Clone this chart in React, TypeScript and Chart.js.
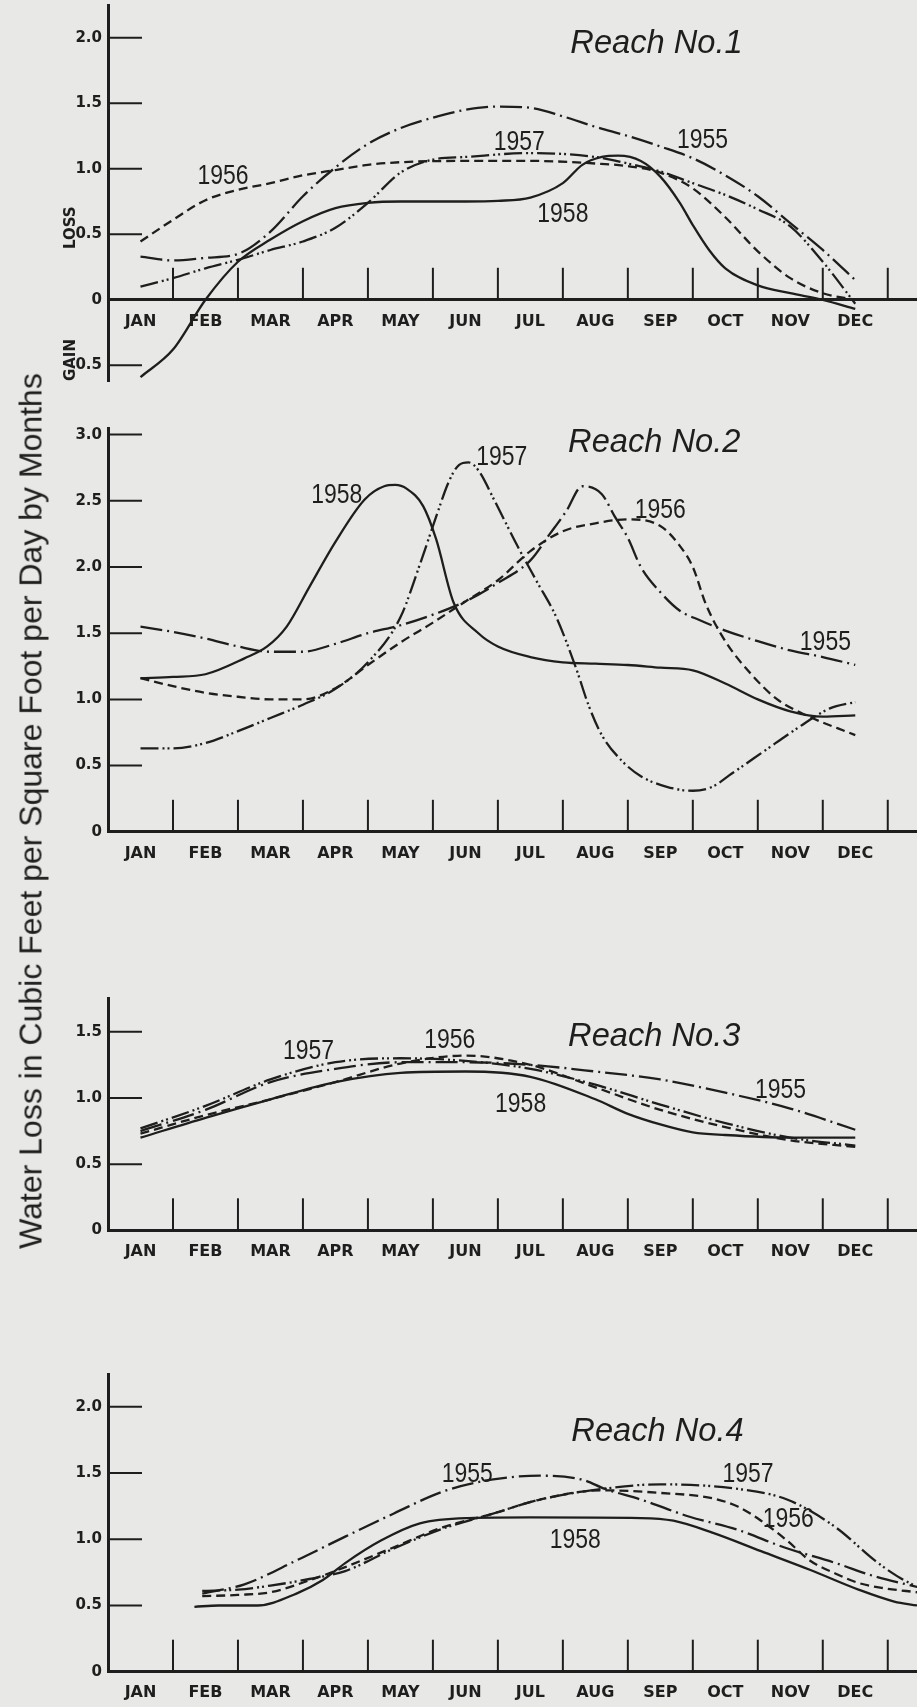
import React, { useEffect, useRef } from "react";
import { Chart, registerables } from "chart.js";

Chart.register(...registerables);

type Pt = [number, number];

// ---------- categories ----------
const MONTHS = ["JAN", "FEB", "MAR", "APR", "MAY", "JUN", "JUL", "AUG", "SEP", "OCT", "NOV", "DEC"];
const YEARS = ["1955", "1956", "1957", "1958"];

// ---------- Reach No.1  [month position, cfs per sq ft per day] ----------
const reach1_1955: Pt[] = [
  [1, 0.33], [1.5, 0.30], [2, 0.32], [2.5, 0.35], [3, 0.52], [3.5, 0.79], [4, 1.01], [4.5, 1.19],
  [5, 1.31], [5.5, 1.39], [6, 1.45], [6.5, 1.475], [7, 1.465], [7.5, 1.40], [8, 1.32], [8.5, 1.25],
  [9, 1.17], [9.5, 1.08], [10, 0.95], [10.5, 0.79], [11, 0.585], [11.5, 0.38], [12, 0.15],
];
const reach1_1956: Pt[] = [
  [1, 0.445], [1.5, 0.61], [2, 0.76], [2.5, 0.84], [3, 0.89], [3.5, 0.95], [4, 0.99], [4.5, 1.03],
  [5, 1.05], [6, 1.06], [7, 1.06], [8, 1.04], [8.5, 1.02], [9, 0.97], [9.5, 0.85], [10, 0.63],
  [10.5, 0.37], [11, 0.165], [11.5, 0.05], [12, 0.0],
];
const reach1_1957: Pt[] = [
  [1, 0.10], [1.5, 0.165], [2, 0.24], [2.5, 0.305], [3, 0.38], [3.5, 0.445], [4, 0.55], [4.5, 0.74],
  [5, 0.97], [5.5, 1.07], [6, 1.09], [7, 1.12], [8, 1.09], [8.5, 1.04], [9, 0.98], [9.5, 0.89],
  [10, 0.80], [10.5, 0.69], [11, 0.56], [11.5, 0.29], [12, -0.03],
];
const reach1_1958: Pt[] = [
  [1, -0.59], [1.5, -0.38], [2, 0.0], [2.5, 0.29], [3, 0.46], [3.5, 0.60], [4, 0.70], [4.5, 0.74],
  [5, 0.75], [6, 0.75], [6.5, 0.755], [7, 0.78], [7.5, 0.89], [7.8, 1.03], [8.1, 1.09], [8.35, 1.10],
  [8.7, 1.06], [9, 0.94], [9.3, 0.74], [9.5, 0.57], [9.75, 0.38], [10, 0.24], [10.5, 0.11], [11, 0.05],
  [11.5, 0.0], [12, -0.07],
];
const reach1Ticks = [-0.5, 0, 0.5, 1.0, 1.5, 2.0];

// ---------- Reach No.2 ----------
const reach2_1955: Pt[] = [
  [1, 1.55], [1.5, 1.51], [2, 1.46], [2.5, 1.40], [3, 1.36], [3.5, 1.36], [4, 1.42], [4.5, 1.50],
  [5, 1.56], [5.5, 1.64], [6, 1.74], [6.5, 1.88], [7, 2.05], [7.3, 2.25], [7.55, 2.42], [7.8, 2.61],
  [8.1, 2.55], [8.3, 2.38], [8.5, 2.22], [8.7, 2.0], [9, 1.81], [9.3, 1.67], [9.6, 1.60], [10, 1.52],
  [10.5, 1.44], [11, 1.37], [11.5, 1.32], [12, 1.26],
];
const reach2_1956: Pt[] = [
  [1, 1.16], [1.5, 1.10], [2, 1.05], [2.5, 1.02], [3, 1.0], [3.5, 1.0], [4, 1.085], [4.5, 1.26],
  [5, 1.43], [5.5, 1.58], [6, 1.74], [6.5, 1.90], [7, 2.12], [7.5, 2.27], [8, 2.33], [8.5, 2.36],
  [9, 2.31], [9.3, 2.16], [9.5, 2.0], [9.7, 1.72], [10, 1.44], [10.4, 1.19], [10.8, 1.0], [11.2, 0.89],
  [12, 0.73],
];
const reach2_1957: Pt[] = [
  [1, 0.63], [1.5, 0.63], [2, 0.67], [2.5, 0.76], [3, 0.86], [3.5, 0.96], [4, 1.08], [4.5, 1.28],
  [5, 1.62], [5.3, 2.02], [5.55, 2.38], [5.75, 2.65], [5.9, 2.77], [6.05, 2.79], [6.2, 2.73], [6.45, 2.50],
  [6.8, 2.16], [7.1, 1.89], [7.4, 1.62], [7.7, 1.24], [7.9, 0.95], [8.1, 0.73], [8.4, 0.54], [8.7, 0.42],
  [9.1, 0.34], [9.5, 0.31], [9.8, 0.34], [10.1, 0.44], [10.6, 0.61], [11.1, 0.78], [11.6, 0.93], [12, 0.98],
];
const reach2_1958: Pt[] = [
  [1, 1.16], [1.5, 1.17], [2, 1.19], [2.6, 1.31], [2.95, 1.40], [3.25, 1.55], [3.6, 1.85], [4.0, 2.19],
  [4.45, 2.51], [4.75, 2.61], [4.92, 2.62], [5.1, 2.59], [5.35, 2.46], [5.55, 2.21], [5.82, 1.73], [6.2, 1.50],
  [6.5, 1.40], [7, 1.32], [7.5, 1.28], [8, 1.27], [8.5, 1.26], [9, 1.24], [9.5, 1.22], [10, 1.12],
  [10.5, 1.0], [11, 0.91], [11.5, 0.87], [12, 0.88],
];
const reach2Ticks = [0, 0.5, 1.0, 1.5, 2.0, 2.5, 3.0];

// ---------- Reach No.3 ----------
const reach3_1955: Pt[] = [
  [1, 0.75], [2, 0.91], [3, 1.12], [4, 1.22], [5, 1.27], [6, 1.27], [7, 1.25], [8, 1.20],
  [9, 1.14], [10, 1.04], [11, 0.92], [12, 0.76],
];
const reach3_1956: Pt[] = [
  [1, 0.73], [2, 0.87], [3, 0.99], [4, 1.12], [5, 1.26], [6, 1.32], [7, 1.25], [8, 1.08],
  [9, 0.91], [10, 0.78], [11, 0.68], [12, 0.63],
];
const reach3_1957: Pt[] = [
  [1, 0.77], [2, 0.94], [3, 1.14], [4, 1.27], [5, 1.30], [6, 1.28], [7, 1.22], [8, 1.10],
  [9, 0.95], [10, 0.81], [11, 0.70], [12, 0.64],
];
const reach3_1958: Pt[] = [
  [1, 0.70], [2, 0.85], [3, 0.99], [4, 1.12], [5, 1.19], [6, 1.20], [7, 1.16], [8, 0.99],
  [8.5, 0.88], [9, 0.80], [9.5, 0.74], [10, 0.72], [11, 0.70], [12, 0.70],
];
const reach3Ticks = [0, 0.5, 1.0, 1.5];

// ---------- Reach No.4 ----------
const reach4_1955: Pt[] = [
  [1.95, 0.59], [2.6, 0.66], [3.4, 0.84], [4.15, 1.02], [4.9, 1.195], [5.65, 1.36], [6.4, 1.45], [7.15, 1.48],
  [7.8, 1.45], [8.15, 1.38], [8.7, 1.30], [9.45, 1.17], [10.2, 1.07], [10.9, 0.94], [11.7, 0.82], [12.3, 0.72],
  [12.95, 0.64],
];
const reach4_1956: Pt[] = [
  [1.95, 0.57], [2.5, 0.58], [3.0, 0.60], [3.6, 0.69], [4.15, 0.79], [4.9, 0.94], [5.65, 1.09], [6.4, 1.19],
  [7.15, 1.30], [8.1, 1.37], [9.0, 1.35], [9.8, 1.31], [10.2, 1.245], [10.55, 1.14], [10.95, 0.99], [11.3, 0.84],
  [11.7, 0.74], [12.05, 0.67], [12.45, 0.63], [12.95, 0.60],
];
const reach4_1957: Pt[] = [
  [1.95, 0.61], [2.5, 0.62], [3, 0.65], [3.6, 0.70], [4.15, 0.76], [4.9, 0.93], [5.65, 1.08], [6.4, 1.19],
  [7.15, 1.30], [8.1, 1.38], [9.0, 1.415], [10.2, 1.38], [10.95, 1.30], [11.7, 1.09], [12.3, 0.84], [12.65, 0.72],
  [12.95, 0.64],
];
const reach4_1958: Pt[] = [
  [1.83, 0.49], [2.2, 0.50], [2.8, 0.50], [3.4, 0.59], [3.8, 0.69], [4.15, 0.82], [4.7, 0.99], [5.3, 1.12],
  [6.05, 1.16], [7, 1.165], [8.7, 1.16], [9.2, 1.14], [9.8, 1.05], [10.55, 0.91], [11.3, 0.77], [12.05, 0.62],
  [12.6, 0.53], [12.95, 0.50],
];
const reach4Ticks = [0, 0.5, 1.0, 1.5, 2.0];

// ---------- text annotations, anchored in data coordinates ----------
type Note = { text: string; x: number; y: number };
const reach1Notes: Note[] = [
  { text: "1956", x: 2.27, y: 0.88 },
  { text: "1957", x: 6.83, y: 1.14 },
  { text: "1955", x: 9.65, y: 1.16 },
  { text: "1958", x: 7.5, y: 0.595 },
];
const reach2Notes: Note[] = [
  { text: "1958", x: 4.02, y: 2.485 },
  { text: "1957", x: 6.56, y: 2.77 },
  { text: "1956", x: 9.0, y: 2.37 },
  { text: "1955", x: 11.54, y: 1.374 },
];
const reach3Notes: Note[] = [
  { text: "1957", x: 3.585, y: 1.294 },
  { text: "1956", x: 5.76, y: 1.377 },
  { text: "1958", x: 6.85, y: 0.894 },
  { text: "1955", x: 10.85, y: 1.0 },
];
const reach4Notes: Note[] = [
  { text: "1955", x: 6.03, y: 1.432 },
  { text: "1957", x: 10.35, y: 1.432 },
  { text: "1956", x: 10.97, y: 1.092 },
  { text: "1958", x: 7.69, y: 0.934 },
];

const AXIS_TITLE = "Water Loss in Cubic Feet per Square Foot per Day by Months";

// ---------- styling ----------
const INK = "#1e1e1e";
const PAPER = "#e8e8e6";
const DASHES: number[][] = [
  [22, 5, 2, 5], // 1955  long dash - dot
  [9, 5], // 1956  dashed
  [18, 4, 2, 3, 2, 4], // 1957  long dash - dot - dot
  [], // 1958  solid
];

type PanelCfg = {
  title: string;
  titleAt: [number, number];
  series: Pt[][];
  ticks: number[];
  notes: Note[];
  yMin: number;
  yMax: number;
  top: number;
  height: number;
  padTop: number;
  padBottom: number;
  lossGain?: boolean;
};

const PANELS: PanelCfg[] = [
  {
    title: "Reach No.1", titleAt: [7.615, 1.88],
    series: [reach1_1955, reach1_1956, reach1_1957, reach1_1958],
    ticks: reach1Ticks, notes: reach1Notes, yMin: -0.62, yMax: 2.25,
    top: 0, height: 392, padTop: 5, padBottom: 11, lossGain: true,
  },
  {
    title: "Reach No.2", titleAt: [7.58, 2.87],
    series: [reach2_1955, reach2_1956, reach2_1957, reach2_1958],
    ticks: reach2Ticks, notes: reach2Notes, yMin: 0, yMax: 3.05,
    top: 400, height: 470, padTop: 28, padBottom: 38.2,
  },
  {
    title: "Reach No.3", titleAt: [7.58, 1.392],
    series: [reach3_1955, reach3_1956, reach3_1957, reach3_1958],
    ticks: reach3Ticks, notes: reach3Notes, yMin: 0, yMax: 1.75,
    top: 880, height: 400, padTop: 118.7, padBottom: 49.7,
  },
  {
    title: "Reach No.4", titleAt: [7.63, 1.74],
    series: [reach4_1955, reach4_1956, reach4_1957, reach4_1958],
    ticks: reach4Ticks, notes: reach4Notes, yMin: 0, yMax: 2.245,
    top: 1290, height: 417, padTop: 84.4, padBottom: 35.3,
  },
];

function makeDecor(cfg: PanelCfg) {
  return {
    id: "decor",
    beforeDatasetsDraw(chart: any) {
      const { ctx, chartArea, scales } = chart;
      const xs = scales.x;
      const ys = scales.y;
      ctx.save();
      ctx.strokeStyle = INK;
      ctx.lineWidth = 2;
      ctx.setLineDash([]);
      // y tick marks pointing into the plot
      cfg.ticks.forEach((v) => {
        if (v === 0) return;
        const py = ys.getPixelForValue(v);
        ctx.beginPath();
        ctx.moveTo(chartArea.left, py);
        ctx.lineTo(chartArea.left + 34, py);
        ctx.stroke();
      });
      // month boundary marks rising from the zero line
      const y0 = ys.getPixelForValue(0);
      MONTHS.forEach((_, i) => {
        const px = xs.getPixelForValue(i + 1.5);
        ctx.beginPath();
        ctx.moveTo(px, y0);
        ctx.lineTo(px, y0 - 32);
        ctx.stroke();
      });
      ctx.restore();
    },
    afterDraw(chart: any) {
      const { ctx, chartArea, scales } = chart;
      const xs = scales.x;
      const ys = scales.y;
      ctx.save();
      ctx.fillStyle = INK;
      // year labels
      ctx.font = '28px "Liberation Sans", Arial, sans-serif';
      ctx.textAlign = "center";
      ctx.textBaseline = "alphabetic";
      cfg.notes.forEach((n) => {
        ctx.save();
        ctx.translate(xs.getPixelForValue(n.x), ys.getPixelForValue(n.y));
        ctx.scale(0.82, 1);
        ctx.fillText(n.text, 0, 0);
        ctx.restore();
      });
      // panel title
      ctx.font = 'italic 34px "Liberation Sans", Arial, sans-serif';
      ctx.textAlign = "left";
      ctx.save();
      ctx.translate(xs.getPixelForValue(cfg.titleAt[0]), ys.getPixelForValue(cfg.titleAt[1]));
      ctx.scale(0.96, 1);
      ctx.fillText(cfg.title, 0, 0);
      ctx.restore();
      // LOSS / GAIN side labels
      if (cfg.lossGain) {
        ctx.font = 'bold 15px "DejaVu Sans", sans-serif';
        ctx.textAlign = "center";
        ctx.textBaseline = "middle";
        const lx = chartArea.left - 37;
        [["LOSS", 0.55], ["GAIN", -0.46]].forEach(([t, v]) => {
          ctx.save();
          ctx.translate(lx, ys.getPixelForValue(v as number));
          ctx.rotate(-Math.PI / 2);
          ctx.fillText(t as string, 0, 0);
          ctx.restore();
        });
      }
      ctx.restore();
    },
  };
}

function Panel({ cfg }: { cfg: PanelCfg }) {
  const ref = useRef<HTMLCanvasElement | null>(null);
  useEffect(() => {
    if (!ref.current) return;
    const chart = new Chart(ref.current, {
      type: "line",
      data: {
        datasets: cfg.series.map((pts, i) => ({
          label: YEARS[i],
          data: pts.map(([x, y]) => ({ x, y })),
          borderColor: INK,
          borderWidth: 2.3,
          borderDash: DASHES[i],
          pointRadius: 0,
          fill: false,
          cubicInterpolationMode: "monotone" as const,
        })),
      },
      options: {
        animation: false,
        responsive: false,
        maintainAspectRatio: false,
        events: [],
        layout: {
          autoPadding: false,
          padding: { top: cfg.padTop, bottom: cfg.padBottom, left: 0, right: 0 },
        },
        plugins: {
          legend: { display: false },
          tooltip: { enabled: false },
          title: { display: false },
        },
        scales: {
          x: {
            type: "linear",
            min: 0.5,
            max: 12.95,
            position: { y: 0 } as any,
            grid: { display: false, drawTicks: false },
            border: { display: true, width: 3, color: INK },
            ticks: {
              color: INK,
              padding: 12,
              autoSkip: false,
              maxRotation: 0,
              font: { family: '"DejaVu Sans", sans-serif', size: 16, weight: "bold" },
              callback: (v: any) => MONTHS[Math.round(Number(v)) - 1] ?? "",
            },
            afterBuildTicks: (s: any) => {
              s.ticks = MONTHS.map((_, i) => ({ value: i + 1 }));
            },
            afterFit: (s: any) => {
              s.paddingLeft = 0;
              s.paddingRight = 0;
            },
          },
          y: {
            type: "linear",
            min: cfg.yMin,
            max: cfg.yMax,
            grid: { display: false, drawTicks: false },
            border: { display: true, width: 3, color: INK },
            ticks: {
              color: INK,
              padding: 6,
              font: { family: '"DejaVu Sans", sans-serif', size: 15, weight: "bold" },
              callback: (v: any) => (Number(v) === 0 ? "0" : Math.abs(Number(v)).toFixed(1)),
            },
            afterBuildTicks: (s: any) => {
              s.ticks = cfg.ticks.map((v) => ({ value: v }));
            },
            afterFit: (s: any) => {
              s.width = 108;
              s.paddingTop = 0;
              s.paddingBottom = 0;
            },
          },
        },
      },
      plugins: [makeDecor(cfg)],
    } as any);
    return () => chart.destroy();
  }, [cfg]);
  return (
    <canvas
      ref={ref}
      width={917}
      height={cfg.height}
      style={{ position: "absolute", left: 0, top: cfg.top, width: 917, height: cfg.height, display: "block" }}
    />
  );
}

export default function App() {
  return (
    <div
      style={{
        position: "absolute",
        left: 0,
        top: 0,
        width: 917,
        height: 1707,
        background: PAPER,
        overflow: "hidden",
      }}
    >
      {PANELS.map((p) => (
        <Panel key={p.title} cfg={p} />
      ))}
      <div
        style={{
          position: "absolute",
          left: 31,
          top: 811,
          transform: "translate(-50%, -50%) rotate(-90deg)",
          whiteSpace: "nowrap",
          font: '32px "Liberation Sans", Arial, sans-serif',
          color: INK,
        }}
      >
        {AXIS_TITLE}
      </div>
    </div>
  );
}
